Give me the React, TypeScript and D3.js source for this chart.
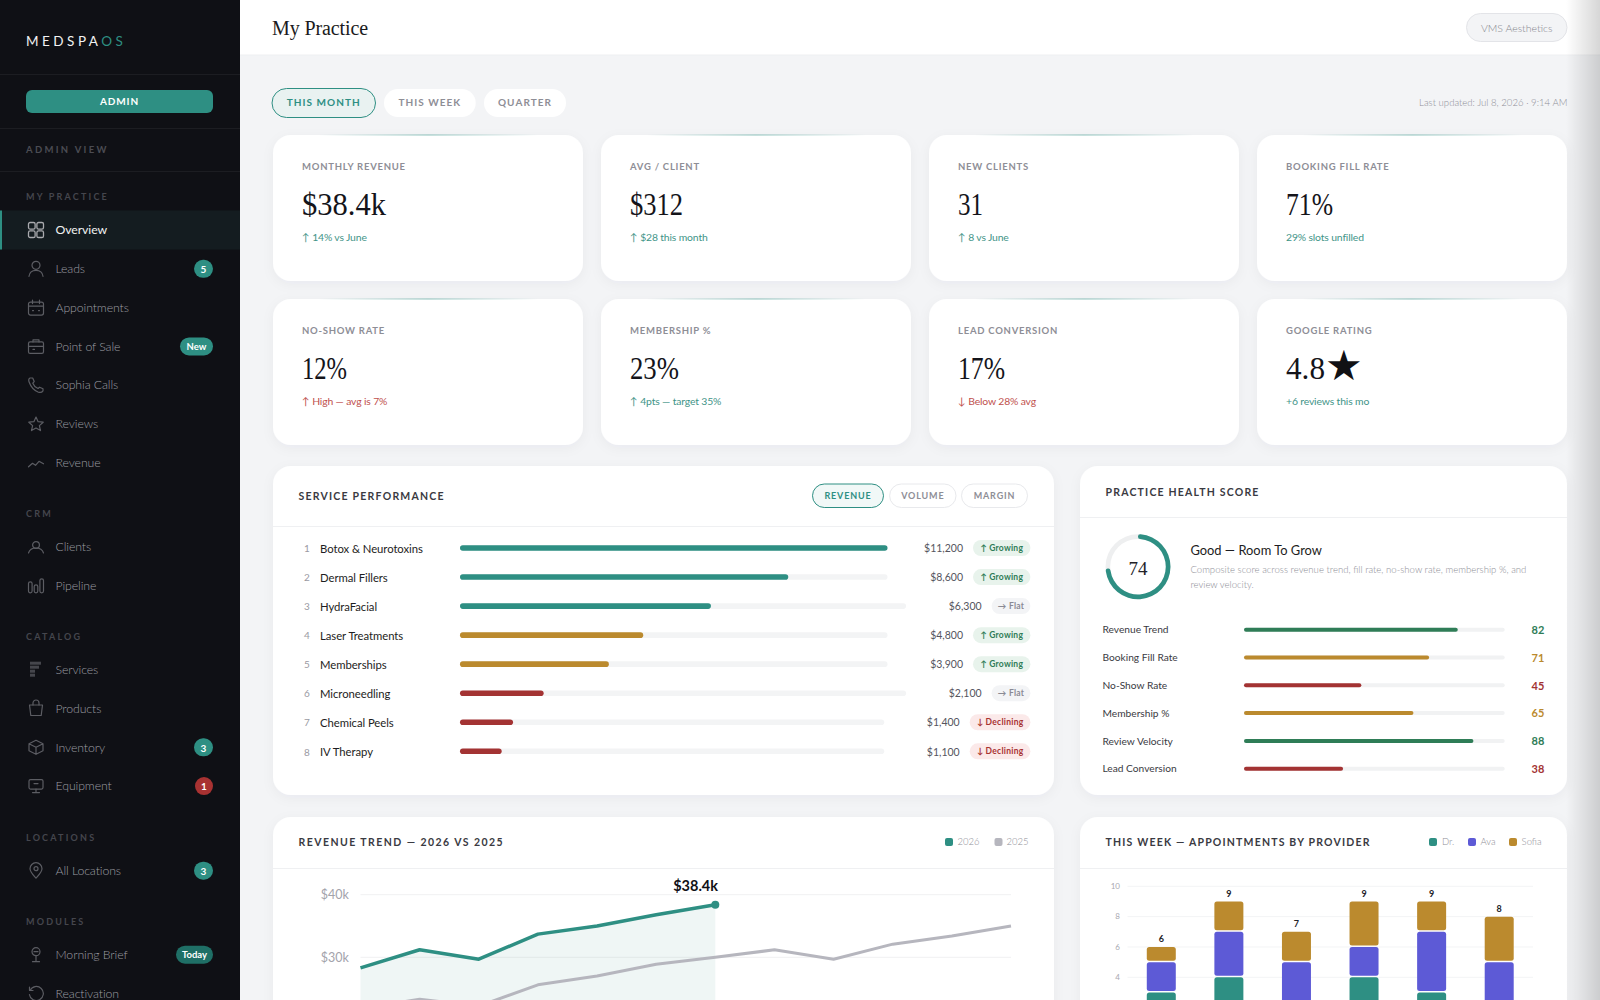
import React from "react";
import * as d3 from "d3";

const TEAL = "#2e8f83", GOLD = "#bb8a2e", RED = "#a33333", GREEN = "#2f7d57", PURPLE = "#5d5ad6", GREY = "#b6b6be";
const SANS = "Lato, 'Open Sans', sans-serif";
const SERIF = "'Liberation Serif', serif";

const navMyPractice = ["Overview", "Leads", "Appointments", "Point of Sale", "Sophia Calls", "Reviews", "Revenue"];
const navCrm = ["Clients", "Pipeline"];
const navCatalog = ["Services", "Products", "Inventory", "Equipment"];
const navLocations = ["All Locations"];
const navModules = ["Morning Brief", "Reactivation"];
const navBadges: Record<string, [string, string]> = {
  Leads: ["5", TEAL], "Point of Sale": ["New", TEAL], Inventory: ["3", TEAL], Equipment: ["1", "#a83232"],
  "All Locations": ["3", TEAL], "Morning Brief": ["Today", "#1f6f66"],
};

const rangeTabs = ["THIS MONTH", "THIS WEEK", "QUARTER"];
const kpiLabels = ["MONTHLY REVENUE", "AVG / CLIENT", "NEW CLIENTS", "BOOKING FILL RATE", "NO-SHOW RATE", "MEMBERSHIP %", "LEAD CONVERSION", "GOOGLE RATING"];
const kpiValues = ["$38.4k", "$312", "31", "71%", "12%", "23%", "17%", "4.8"];
const kpiSubs = ["↑ 14% vs June", "↑ $28 this month", "↑ 8 vs June", "29% slots unfilled", "↑ High — avg is 7%", "↑ 4pts — target 35%", "↓ Below 28% avg", "+6 reviews this mo"];
const kpiBad = [false, false, false, false, true, false, true, false];

const services = ["Botox & Neurotoxins", "Dermal Fillers", "HydraFacial", "Laser Treatments", "Memberships", "Microneedling", "Chemical Peels", "IV Therapy"];
const serviceRevenue = [11200, 8600, 6300, 4800, 3900, 2100, 1400, 1100];
const serviceTiers = ["high", "high", "high", "mid", "mid", "low", "low", "low"];
const serviceTrends = ["Growing", "Growing", "Flat", "Growing", "Growing", "Flat", "Declining", "Declining"];
const serviceTabs = ["REVENUE", "VOLUME", "MARGIN"];

const healthLabels = ["Revenue Trend", "Booking Fill Rate", "No-Show Rate", "Membership %", "Review Velocity", "Lead Conversion"];
const healthScores = [82, 71, 45, 65, 88, 38];
const healthTotal = 74;

const months = ["Jan", "Feb", "Mar", "Apr", "May", "Jun", "Jul", "Aug", "Sep", "Oct", "Nov", "Dec"];
const revenue2026 = [28.3, 31.2, 29.7, 33.7, 35.0, 36.8, 38.4];
const revenue2025 = [21.8, 23.3, 22.2, 25.6, 27.0, 28.9, 30.0, 31.2, 29.7, 32.1, 33.4, 35.0];
const revenueTicks = [40, 30];

const days = ["Mon", "Tue", "Wed", "Thu", "Fri", "Sat"];
const apptDr = [3, 4, 2, 4, 3, 2];
const apptAva = [2, 3, 3, 2, 4, 3];
const apptSofia = [1, 2, 2, 3, 2, 3];
const apptTicks = [10, 8, 6, 4];

type TP = { x: number; y: number; s: number; c: string; w?: number; ls?: number; a?: "start" | "middle" | "end"; f?: string; children: React.ReactNode };
const T = ({ x, y, s, c, w = 400, ls = 0, a = "start", f = SANS, children }: TP) => (
  <text x={x} y={y - 0.3} fontSize={s} fill={c} fontWeight={w} letterSpacing={ls} textAnchor={a} fontFamily={f} dominantBaseline="central">{children}</text>
);

const Icon = ({ name, y }: { name: string; y: number }) => {
  const p = { fill: "none", stroke: "#5c5d63", strokeWidth: 1.2, strokeLinecap: "round" as const, strokeLinejoin: "round" as const };
  const g = (c: React.ReactNode) => <g transform={`translate(28,${y - 8})`} {...p}>{c}</g>;
  switch (name) {
    case "Overview": return <g transform={`translate(28,${y - 8})`} {...p} stroke="#a9aaae" strokeWidth={1.3}><rect x="0.5" y="0.5" width="6.6" height="6.6" rx="1.6" /><rect x="8.9" y="0.5" width="6.6" height="6.6" rx="1.6" /><rect x="0.5" y="8.9" width="6.6" height="6.6" rx="1.6" /><rect x="8.9" y="8.9" width="6.6" height="6.6" rx="1.6" /></g>;
    case "Leads": return g(<><circle cx="8" cy="4.5" r="4" /><path d="M1 15.5c.5-4 3.5-6 7-6s6.5 2 7 6" /></>);
    case "Appointments": return g(<><rect x="0.5" y="2.5" width="15" height="13" rx="2" /><path d="M0.5 6.5h15M4.5 0.5v3.5M11.5 0.5v3.5M4.5 11h1M10.5 11h1" /></>);
    case "Point of Sale": return g(<><rect x="0.5" y="3.5" width="15" height="11.5" rx="1.6" /><path d="M5 3.5v-2h6v2M0.5 8h15M5 11h1.5" /></>);
    case "Sophia Calls": return g(<path d="M2 .8c-1.4.6-1.6 2.4-.8 4.2 1.6 4.4 4.8 8 8.8 9.8 2 .8 4 .3 5-1.2v-2l-3.400-1.600-1.600 1.300c-2.400-1-4.300-3-5.200-5.300l1.400-1.600-1.500-3.600z" />);
    case "Reviews": return g(<path d="M8 1l2.100 4.700 5.100.5-3.800 3.400 1.100 5L8 12l-4.500 2.600 1.100-5L.8 6.200l5.100-.5z" />);
    case "Revenue": return g(<path d="M.5 12l4-3.500 3 2 3.500-4 4.500 2.500" />);
    case "Clients": return g(<><circle cx="8" cy="6" r="3.400" /><path d="M.5 14c1-3.200 3.800-5 7.500-5s6.500 1.800 7.500 5" /></>);
    case "Pipeline": return g(<><rect x="0.5" y="4" width="3.600" height="11" rx="1.800" /><rect x="6.200" y="7" width="3.600" height="8" rx="1.800" /><rect x="11.900" y="1" width="3.600" height="14" rx="1.800" /></>);
    case "Services": return <g transform={`translate(30,${y - 8})`} fill="#45464c"><rect x="0" y="0" width="11" height="3" /><rect x="0" y="4" width="9" height="3" /><rect x="0" y="8" width="5" height="3" /><rect x="0" y="12" width="5" height="3" /></g>;
    case "Products": return g(<><path d="M1.500 4.500h13l-1.300 10.500h-10.400z" /><path d="M5 4.500v-2a3 3 0 0 1 6 0v2" /></>);
    case "Inventory": return g(<path d="M8 1l7 3.500v7L8 15l-7-3.500v-7zM1 4.500l7 3.500 7-3.500M8 8v7" />);
    case "Equipment": return g(<><rect x="1" y="1.500" width="14" height="9.500" rx="1.500" /><path d="M8 11v3M4.500 14.500h7M6 5.500h4" /></>);
    case "All Locations": return g(<><path d="M8 15.500c-3-3.500-6-6.500-6-9.500a6 6 0 0 1 12 0c0 3-3 6-6 9.500z" /><circle cx="8" cy="6" r="2" /></>);
    case "Morning Brief": return g(<><circle cx="8" cy="5" r="4" /><path d="M8 9v5.500M4.500 15h7M6 5h4" /></>);
    default: return g(<><path d="M2 5a7 7 0 1 1-.6 4" /><path d="M1.500 1.500v3.500h3.500" /></>);
  }
};

const Card = ({ x, y, w, h, r = 18 }: { x: number; y: number; w: number; h: number; r?: number }) => (
  <rect x={x} y={y} width={w} height={h} rx={r} fill="#fff" filter="url(#cardShadow)" />
);

const Pill = ({ x, y, w, h, fill, stroke }: { x: number; y: number; w: number; h: number; fill: string; stroke?: string }) => (
  <rect x={x} y={y} width={w} height={h} rx={h / 2} fill={fill} stroke={stroke ?? "none"} />
);

function NavSection({ title, items, labelY }: { title: string; items: string[]; labelY: number }) {
  const rowY = d3.scaleLinear().domain([0, 1]).range([labelY + 33, labelY + 33 + 38.8]);
  return (
    <g>
      <T x={26} y={labelY} s={9} c="#45464d" w={700} ls={2.2}>{title}</T>
      {items.map((it, i) => {
        const y = rowY(i);
        const active = it === "Overview";
        const b = navBadges[it];
        const bw = b ? (b[0].length === 1 ? (b[1] === "#a83232" ? 18 : 19) : b[0] === "New" ? 33 : 37) : 0;
        return (
          <g key={it}>
            {active && <rect x={0} y={y - 19.500} width={240} height={39} fill="#141c20" />}
            {active && <rect x={0} y={y - 19.500} width={2} height={39} fill={TEAL} />}
            <Icon name={it} y={y} />
            <T x={55.500} y={y} s={12.300} c={active ? "#f0f1f1" : "#9c9da2"} w={active ? 400 : 300} ls={-0.1}>{it}</T>
            {b && <Pill x={213 - bw} y={y - 9} w={bw} h={18} fill={b[1]} />}
            {b && <T x={213 - bw / 2} y={y + 0.500} s={b[0].length === 1 ? 10 : 9.500} c="#fff" w={700} a="middle">{b[0]}</T>}
          </g>
        );
      })}
    </g>
  );
}

export default function App() {
  // KPI grid
  const kpiX = d3.scalePoint<number>().domain([0, 1, 2, 3]).range([273, 1257]);
  const kpiY = d3.scalePoint<number>().domain([0, 1]).range([135, 299]);
  const kpiValueFit = [84, 53, 25, 47, 45, 49, 47, 39];

  // Service performance
  const svcY = d3.scalePoint<string>().domain(services).range([548, 751.3]);
  const svcMax = d3.max(serviceRevenue) as number;
  const trendStyle: Record<string, { w: number; bg: string; fg: string; g: string }> = {
    Growing: { w: 57.400, bg: "#e8f3ec", fg: "#2f7d57", g: "↑ Growing" },
    Flat: { w: 38.800, bg: "#f3f4f6", fg: "#8a8a94", g: "→ Flat" },
    Declining: { w: 60.700, bg: "#fbe9e9", fg: "#a83232", g: "↓ Declining" },
  };
  const tierColor: Record<string, string> = { high: TEAL, mid: GOLD, low: RED };

  // Health
  const healthY = d3.scalePoint<string>().domain(healthLabels).range([629.7, 768.7]);
  const healthX = d3.scaleLinear().domain([0, 100]).range([1244, 1504.7]);
  const healthColor = (v: number) => (v >= 80 ? GREEN : v >= 60 ? GOLD : RED);
  const gauge = d3.arc<any>().innerRadius(27.800).outerRadius(32.500).cornerRadius(2.300);

  // Revenue trend
  const revX = d3.scalePoint<string>().domain(months).range([360.5, 1011]);
  const revY = d3.scaleLinear().domain([10, 40]).range([1082.5, 894.7]);
  const lineFn = d3.line<number>().x((_, i) => revX(months[i]) as number).y((d) => revY(d));
  const areaFn = d3.area<number>().x((_, i) => revX(months[i]) as number).y0(revY(10)).y1((d) => revY(d));
  const lastI = revenue2026.length - 1;

  // Stacked appointments
  const apptRows = days.map((d, i) => ({ day: d, Dr: apptDr[i], Ava: apptAva[i], Sofia: apptSofia[i] }));
  const apptKeys = ["Dr", "Ava", "Sofia"];
  const stackSeries = d3.stack<any>().keys(apptKeys)(apptRows);
  const apptBand = d3.scaleBand<string>().domain(days).range([1127.5, 1533]);
  const apptY = d3.scaleLinear().domain([0, 10]).range([1038, 886.3]);
  const apptColor: Record<string, string> = { Dr: TEAL, Ava: PURPLE, Sofia: GOLD };
  const barW = 29;

  return (
    <svg width={1600} height={1000} viewBox="0 0 1600 1000" style={{ position: "fixed", left: 0, top: 0, display: "block" }}>
      <defs>
        <filter id="cardShadow" x="-10%" y="-10%" width="120%" height="130%">
          <feDropShadow dx="0" dy="3" stdDeviation="6" floodColor="#30343c" floodOpacity="0.045" />
        </filter>
        <linearGradient id="accent" x1="0" x2="1" y1="0" y2="0">
          <stop offset="0.1" stopColor={TEAL} stopOpacity="0" />
          <stop offset="0.5" stopColor={TEAL} stopOpacity="0.55" />
          <stop offset="0.9" stopColor={TEAL} stopOpacity="0" />
        </linearGradient>
        <linearGradient id="edge" x1="0" x2="1" y1="0" y2="0">
          <stop offset="0" stopColor="#000" stopOpacity="0" />
          <stop offset="1" stopColor="#000" stopOpacity="0.16" />
        </linearGradient>
      </defs>

      <rect x={0} y={0} width={1600} height={1000} fill="#f3f4f6" />

      {/* Top bar */}
      <rect x={240} y={0} width={1360} height={55} fill="#fff" />
      <line x1={240} x2={1600} y1={55} y2={55} stroke="#eeeff1" />
      <T x={272} y={28} s={20} c="#1a1a20" f={SERIF} ls={-0.1}>My Practice</T>
      <Pill x={1466.500} y={13.500} w={100.500} h={28} fill="#f3f4f6" stroke="#e3e4e8" />
      <T x={1516.700} y={28} s={10.500} c="#84848c" w={300} a="middle">VMS Aesthetics</T>

      {/* Range tabs */}
      {rangeTabs.map((t, i) => {
        const xs = [272, 384, 484];
        const ws = [103.500, 91.700, 82];
        const on = i === 0;
        return (
          <g key={t}>
            <Pill x={xs[i]} y={on ? 88.500 : 89} w={ws[i]} h={on ? 29 : 28} fill={on ? "#e9f2f1" : "#fff"} stroke={on ? TEAL : undefined} />
            <T x={xs[i] + ws[i] / 2} y={102} s={10} c={on ? TEAL : "#8e8e96"} w={700} ls={1.050} a="middle">{t}</T>
          </g>
        );
      })}
      <T x={1567.400} y={102.500} s={9.600} c="#8e8e96" w={300} a="end">Last updated: Jul 8, 2026 · 9:14 AM</T>

      {/* KPI cards */}
      {kpiLabels.map((label, i) => {
        const x = kpiX(i % 4) as number;
        const y = kpiY(Math.floor(i / 4)) as number;
        const isRating = label === "GOOGLE RATING";
        return (
          <g key={label}>
            <Card x={x} y={y} w={310} h={146} />
            <rect x={x + 18} y={y - 0.500} width={274} height={1} fill="url(#accent)" />
            <T x={x + 29} y={y + 31.500} s={9.500} c="#8e8e96" w={700} ls={0.75}>{label}</T>
            <text x={x + 29} y={y + 80} fontFamily={SERIF} fontSize={32} fill="#14141a" textLength={kpiValueFit[i]} lengthAdjust="spacingAndGlyphs">{kpiValues[i]}</text>
            {isRating && <text x={x + 68} y={y + 81} fontFamily="'DejaVu Sans', sans-serif" fontSize={42} fill="#111114">★</text>}
            <T x={x + 29} y={y + 102} s={10.400} c={kpiBad[i] ? "#c0504d" : "#3f9488"} w={400} ls={-0.150}>{kpiSubs[i]}</T>
          </g>
        );
      })}

      {/* Service performance */}
      <Card x={273} y={466} w={781} h={329} />
      <line x1={273} x2={1054} y1={526.500} y2={526.500} stroke="#eff0f2" />
      <T x={298.500} y={496} s={10.500} c="#3a3a42" w={700} ls={1.230}>SERVICE PERFORMANCE</T>
      {serviceTabs.map((t, i) => {
        const xs = [812.500, 889.600, 961.500];
        const ws = [71, 66.400, 66];
        const on = i === 0;
        return (
          <g key={t}>
            <Pill x={xs[i]} y={484} w={ws[i]} h={23.500} fill={on ? "#f1f8f7" : "#fff"} stroke={on ? TEAL : "#e8e9ec"} />
            <T x={xs[i] + ws[i] / 2} y={496} s={9} c={on ? TEAL : "#8e8e96"} w={700} ls={0.850} a="middle">{t}</T>
          </g>
        );
      })}
      {services.map((s, i) => {
        const y = svcY(s) as number;
        const st = trendStyle[serviceTrends[i]];
        const pillX = 1030.400 - st.w;
        const trackEnd = pillX - 85.500;
        const bx = d3.scaleLinear().domain([0, svcMax]).range([460, trackEnd]);
        return (
          <g key={s}>
            <T x={307} y={y + 0.500} s={10} c="#9a9aa3" a="middle">{i + 1}</T>
            <T x={320} y={y + 0.500} s={11.300} c="#1d1d22" ls={-0.05}>{s}</T>
            <rect x={460} y={y - 2.800} width={trackEnd - 460} height={5.600} rx={2.800} fill="#f3f4f5" />
            <rect x={460} y={y - 2.800} width={bx(serviceRevenue[i]) - 460} height={5.600} rx={2.800} fill={tierColor[serviceTiers[i]]} />
            <T x={pillX - 10} y={y + 0.500} s={10.500} c="#55555e" w={400} a="end">{d3.format("$,")(serviceRevenue[i])}</T>
            <rect x={pillX} y={y - 8} width={st.w} height={16} rx={8} fill={st.bg} />
            <T x={pillX + st.w / 2} y={y} s={8.500} c={st.fg} w={700} ls={0.250} a="middle">{st.g}</T>
          </g>
        );
      })}

      {/* Health score */}
      <Card x={1080} y={466} w={487} h={329} />
      <line x1={1080} x2={1567} y1={517.500} y2={517.500} stroke="#eff0f2" />
      <T x={1105.500} y={492} s={10.500} c="#3a3a42" w={700} ls={1.200}>PRACTICE HEALTH SCORE</T>
      <g transform="translate(1138,566.700)">
        <path d={gauge({ startAngle: 0, endAngle: 2 * Math.PI }) as string} fill="#eeeff0" />
        <path d={gauge({ startAngle: 0, endAngle: 2 * Math.PI * healthTotal / 100 }) as string} fill={TEAL} />
      </g>
      <T x={1138} y={569} s={19} c="#222228" a="middle" f={SERIF}>{healthTotal}</T>
      <T x={1190.400} y={550.500} s={12.900} c="#1d1d22">Good — Room To Grow</T>
      <T x={1190.400} y={569.700} s={9.600} c="#8e8e96" w={300}>Composite score across revenue trend, fill rate, no-show rate, membership %, and</T>
      <T x={1190.400} y={584.700} s={9.600} c="#8e8e96" w={300}>review velocity.</T>
      {healthLabels.map((l, i) => {
        const y = healthY(l) as number;
        const v = healthScores[i];
        return (
          <g key={l}>
            <T x={1102.500} y={y} s={10.200} c="#3a3a42">{l}</T>
            <rect x={healthX(0)} y={y - 2} width={healthX(100) - healthX(0)} height={4} rx={2} fill="#f1f2f3" />
            <rect x={healthX(0)} y={y - 2} width={healthX(v) - healthX(0)} height={4} rx={2} fill={healthColor(v)} />
            <T x={1544.300} y={y} s={11} c={healthColor(v)} w={700} a="end">{v}</T>
          </g>
        );
      })}

      {/* Revenue trend */}
      <Card x={273} y={817} w={781} h={300} />
      <line x1={273} x2={1054} y1={868.500} y2={868.500} stroke="#eff0f2" />
      <T x={298.500} y={842} s={10.500} c="#3a3a42" w={700} ls={1.440}>REVENUE TREND — 2026 VS 2025</T>
      <rect x={945} y={838} width={8} height={8} rx={2} fill={TEAL} />
      <T x={957.500} y={841.500} s={9.500} c="#8e8e96" w={300}>2026</T>
      <rect x={994.500} y={838} width={8} height={8} rx={2} fill={GREY} />
      <T x={1006.500} y={841.500} s={9.500} c="#8e8e96" w={300}>2025</T>
      {revenueTicks.map((t) => (
        <g key={t}>
          <line x1={360.500} x2={1011} y1={revY(t)} y2={revY(t)} stroke="#f0f1f2" />
          <T x={348.800} y={revY(t)} s={12.500} c="#a3a3ab" w={400} a="end">{`$${t}k`}</T>
        </g>
      ))}
      <path d={areaFn(revenue2026) as string} fill={TEAL} fillOpacity={0.08} />
      <path d={lineFn(revenue2025) as string} fill="none" stroke={GREY} strokeWidth={3} strokeLinejoin="round" />
      <path d={lineFn(revenue2026) as string} fill="none" stroke={TEAL} strokeWidth={3.500} strokeLinejoin="round" />
      <circle cx={revX(months[lastI])} cy={revY(revenue2026[lastI])} r={4} fill={TEAL} />
      <T x={718} y={886} s={14.500} c="#111116" w={700} a="end">{`$${revenue2026[lastI]}k`}</T>

      {/* Appointments */}
      <Card x={1080} y={817} w={487} h={300} />
      <line x1={1080} x2={1567} y1={868.500} y2={868.500} stroke="#eff0f2" />
      <T x={1105.500} y={842} s={10.500} c="#3a3a42" w={700} ls={1.190}>THIS WEEK — APPOINTMENTS BY PROVIDER</T>
      {apptKeys.map((k, i) => {
        const sx = [1429, 1468, 1509][i];
        const tx = [1442, 1480.400, 1521.600][i];
        return (
          <g key={k}>
            <rect x={sx} y={838} width={8} height={8} rx={2} fill={apptColor[k]} />
            <T x={tx} y={841.500} s={9.500} c="#8e8e96" w={300}>{k === "Dr" ? "Dr." : k}</T>
          </g>
        );
      })}
      {apptTicks.map((t) => (
        <g key={t}>
          <line x1={1127.500} x2={1533} y1={apptY(t)} y2={apptY(t)} stroke="#f3f4f5" />
          <T x={1120} y={apptY(t)} s={8} c="#a8a8b0" a="end">{t}</T>
        </g>
      ))}
      {stackSeries.map((ser) => (
        <g key={ser.key} fill={apptColor[ser.key]}>
          {ser.map((d, i) => {
            const cx = (apptBand(days[i]) as number) + apptBand.bandwidth() / 2;
            const top = apptY(d[1]);
            return <rect key={i} x={cx - barW / 2} y={top} width={barW} height={apptY(d[0]) - top - 1.500} rx={2.500} />;
          })}
        </g>
      ))}
      {days.map((d, i) => {
        const total = apptDr[i] + apptAva[i] + apptSofia[i];
        return <T key={d} x={(apptBand(d) as number) + apptBand.bandwidth() / 2} y={apptY(total) - 8} s={9} c="#222228" w={700} a="middle">{total}</T>;
      })}

      {/* Sidebar */}
      <rect x={0} y={0} width={240} height={1000} fill="#0f1015" />
      <T x={26} y={41} s={13.500} c="#f2f2f2" ls={3.500} w={400}>MEDSPA<tspan fill={TEAL}>OS</tspan></T>
      <line x1={0} x2={240} y1={74.500} y2={74.500} stroke="#1c1d22" />
      <rect x={26} y={90} width={187} height={23} rx={6} fill={TEAL} />
      <T x={119.500} y={101} s={10} c="#fff" w={700} ls={0.900} a="middle">ADMIN</T>
      <line x1={0} x2={240} y1={128.500} y2={128.500} stroke="#1c1d22" />
      <T x={26} y={149.500} s={9.500} c="#4b4c53" w={700} ls={2.300}>ADMIN VIEW</T>
      <line x1={0} x2={240} y1={171.500} y2={171.500} stroke="#1c1d22" />
      <NavSection title="MY PRACTICE" items={navMyPractice} labelY={197} />
      <NavSection title="CRM" items={navCrm} labelY={514} />
      <NavSection title="CATALOG" items={navCatalog} labelY={636.700} />
      <NavSection title="LOCATIONS" items={navLocations} labelY={837.700} />
      <NavSection title="MODULES" items={navModules} labelY={921.700} />

      {/* Right edge shade */}
      <rect x={1566} y={0} width={34} height={1000} fill="url(#edge)" />
    </svg>
  );
}
